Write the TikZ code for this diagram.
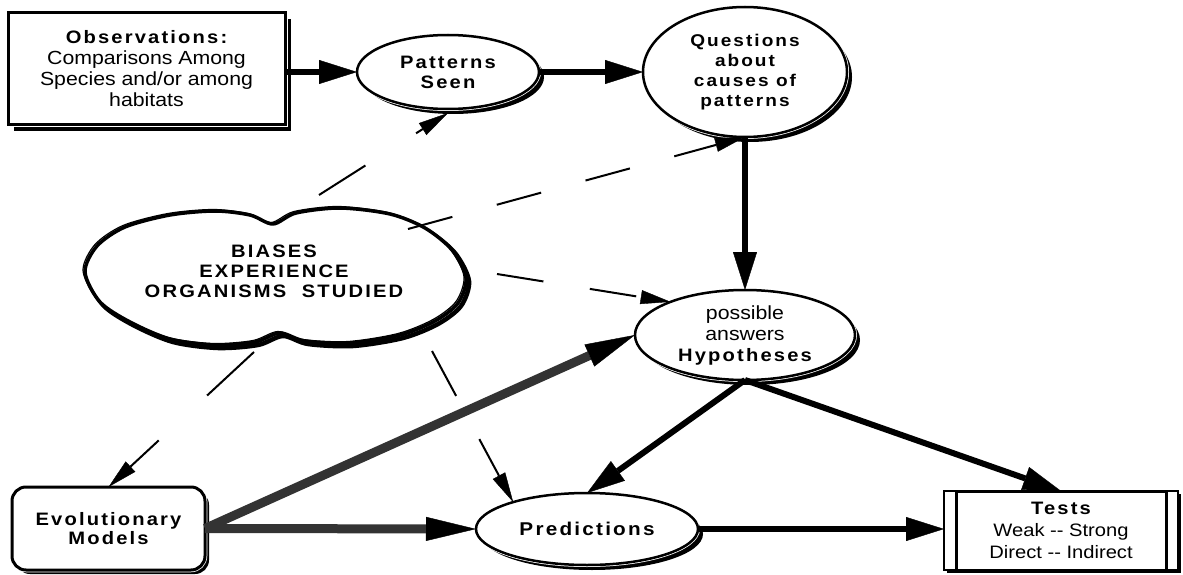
\documentclass[tikz,border=0pt]{standalone}
\usepackage{fontspec}
\setmainfont{Liberation Sans}
\newfontfamily\regw[FakeStretch=1.12]{Liberation Sans}
\newfontfamily\boldw[FakeStretch=1.12,LetterSpace=12]{Liberation Sans}
\usetikzlibrary{arrows.meta,shapes.geometric,shadows}
\definecolor{dgray}{gray}{0.2}
\newcommand\fbold{\boldw\bfseries\fontsize{18}{20}\selectfont}
\newcommand\freg{\regw\fontsize{19}{21}\selectfont}
\begin{document}
\begin{tikzpicture}[x=1pt,y=-1pt,
  every node/.style={inner sep=0pt,outer sep=0pt,align=center},
  ellnode/.style={ellipse,draw,line width=2.5pt,fill=white,
    drop shadow={shadow xshift=5pt,shadow yshift=-5pt,opacity=1,fill=black},
    preaction={draw=white,line width=4pt}},
  boxnode/.style={rectangle,draw,line width=3pt,fill=white,
    drop shadow={shadow xshift=6pt,shadow yshift=-6pt,opacity=1,fill=black},
    preaction={draw=white,line width=5pt}},
  roundnode/.style={rectangle,rounded corners=14pt,draw,line width=3pt,fill=white,
    drop shadow={shadow xshift=4pt,shadow yshift=-4pt,opacity=1,fill=black},
    preaction={draw=white,line width=4.5pt}},
  testnode/.style={rectangle,draw,line width=1.5pt,fill=white,
    drop shadow={shadow xshift=2.5pt,shadow yshift=-3pt,opacity=1,fill=black}},
  thickarrow/.style={line width=6pt,-{Triangle[length=38pt,width=24pt,line width=0.4pt]}},
  grayarrow/.style={line width=9pt,draw=dgray,-{Triangle[length=50pt,width=24pt,color=black,line width=0.4pt]}},
  dasharrow/.style={line width=2pt,-{Triangle[length=30pt,width=14pt,line width=0.4pt]}},
  cloudline/.style={line join=round,line cap=round}
]
\fill[white] (0,0) rectangle (1183,575);
\useasboundingbox (0,0) rectangle (1183,575);

% cloud outline
\def\cloudpts{(85,272) (97,246) (125,227) (170,215) (215,211) (250,215) (273,224) (296,213) (340,208) (390,214) (425,228) (452,250) (466,278) (458,303) (435,321) (400,335) (350,343) (305,341) (280,333) (255,342) (215,345) (170,339) (130,322) (100,302)}
\draw[cloudline,line width=4.5pt,shift={(3pt,-3pt)}] plot[smooth cycle,tension=0.5] coordinates {\cloudpts};
\draw[cloudline,line width=3.5pt,fill=white] plot[smooth cycle,tension=0.5] coordinates {\cloudpts};
\draw[cloudline,line width=1.2pt,shift={(-2pt,1.5pt)}] plot[smooth cycle,tension=0.5] coordinates {\cloudpts};

\node[font=\fbold] (bias) at (274,271) {BIASES\\EXPERIENCE\\ORGANISMS~~STUDIED};

\node[boxnode,minimum width=277pt,minimum height=112pt,font=\freg] (obs) at (146.5,69)
  {{\fbold Observations:}\\Comparisons Among\\Species and/or among\\habitats};
\node[ellnode,minimum width=182pt,minimum height=74pt,font=\fbold] (pat) at (448,72) {Patterns\\Seen};
\node[ellnode,minimum width=204pt,minimum height=130pt,font={\boldw\bfseries\fontsize{17}{20}\selectfont}] (q) at (745,72)
  {Questions\\about\\causes of\\patterns};
\node[ellnode,minimum width=220pt,minimum height=90pt,font=\freg] (hyp) at (745,335)
  {possible\\answers\\{\fbold Hypotheses}};
\node[roundnode,minimum width=193pt,minimum height=83pt,font={\boldw\bfseries\fontsize{18}{19.5}\selectfont}] (evo) at (108.5,528.5)
  {Evolutionary\\Models};
\node[ellnode,minimum width=222pt,minimum height=72pt,font={\boldw\bfseries\fontsize{18.5}{21}\selectfont}] (pred) at (587,529) {Predictions};
\node[testnode,minimum width=234pt,minimum height=79pt] (tests) at (1061,530.5) {};
\draw[line width=3pt] ([xshift=12pt]tests.south west) rectangle ([xshift=-12pt]tests.north east);
\node[font={\regw\fontsize{18}{22}\selectfont}] (testtxt) at (1061,530.5)
  {{\boldw\bfseries\fontsize{18}{22}\selectfont Tests}\\Weak -{}- Strong\\Direct -{}- Indirect};

% dashed influences from the cloud
\coordinate (d1) at (319,195);
\coordinate (d2) at (408,229);
\coordinate (d3) at (497,274);
\coordinate (d4) at (254,352);
\coordinate (d5) at (432,351);
\draw[dasharrow,dash pattern=on 55pt off 60pt] (d1) -- ([yshift=-4pt]pat.south);
\draw[dasharrow,dash pattern=on 46pt off 46pt] (d2) -- (q.south);
\draw[dasharrow,dash pattern=on 47pt off 47pt] (d3) -- (hyp.156);
\draw[dasharrow,dash pattern=on 64pt off 66pt] (d4) -- (evo.north);
\draw[dasharrow,dash pattern=on 51pt off 49pt] (d5) -- (pred.160);

% solid arrows
\draw[thickarrow] (obs.east |- pat.west) -- (pat.west);
\draw[thickarrow] (pat.east) -- (q.west);
\draw[thickarrow] (q.south) -- (hyp.north);
\draw[thickarrow] (hyp.south) -- (pred.north);
\draw[thickarrow] (hyp.south) -- (tests.north);
\draw[thickarrow] (pred.east) -- (pred.east -| tests.west);
\draw[grayarrow] (evo.east) -- (pred.west);
\draw[grayarrow] (evo.east) -- (hyp.west);
\end{tikzpicture}
\end{document}
